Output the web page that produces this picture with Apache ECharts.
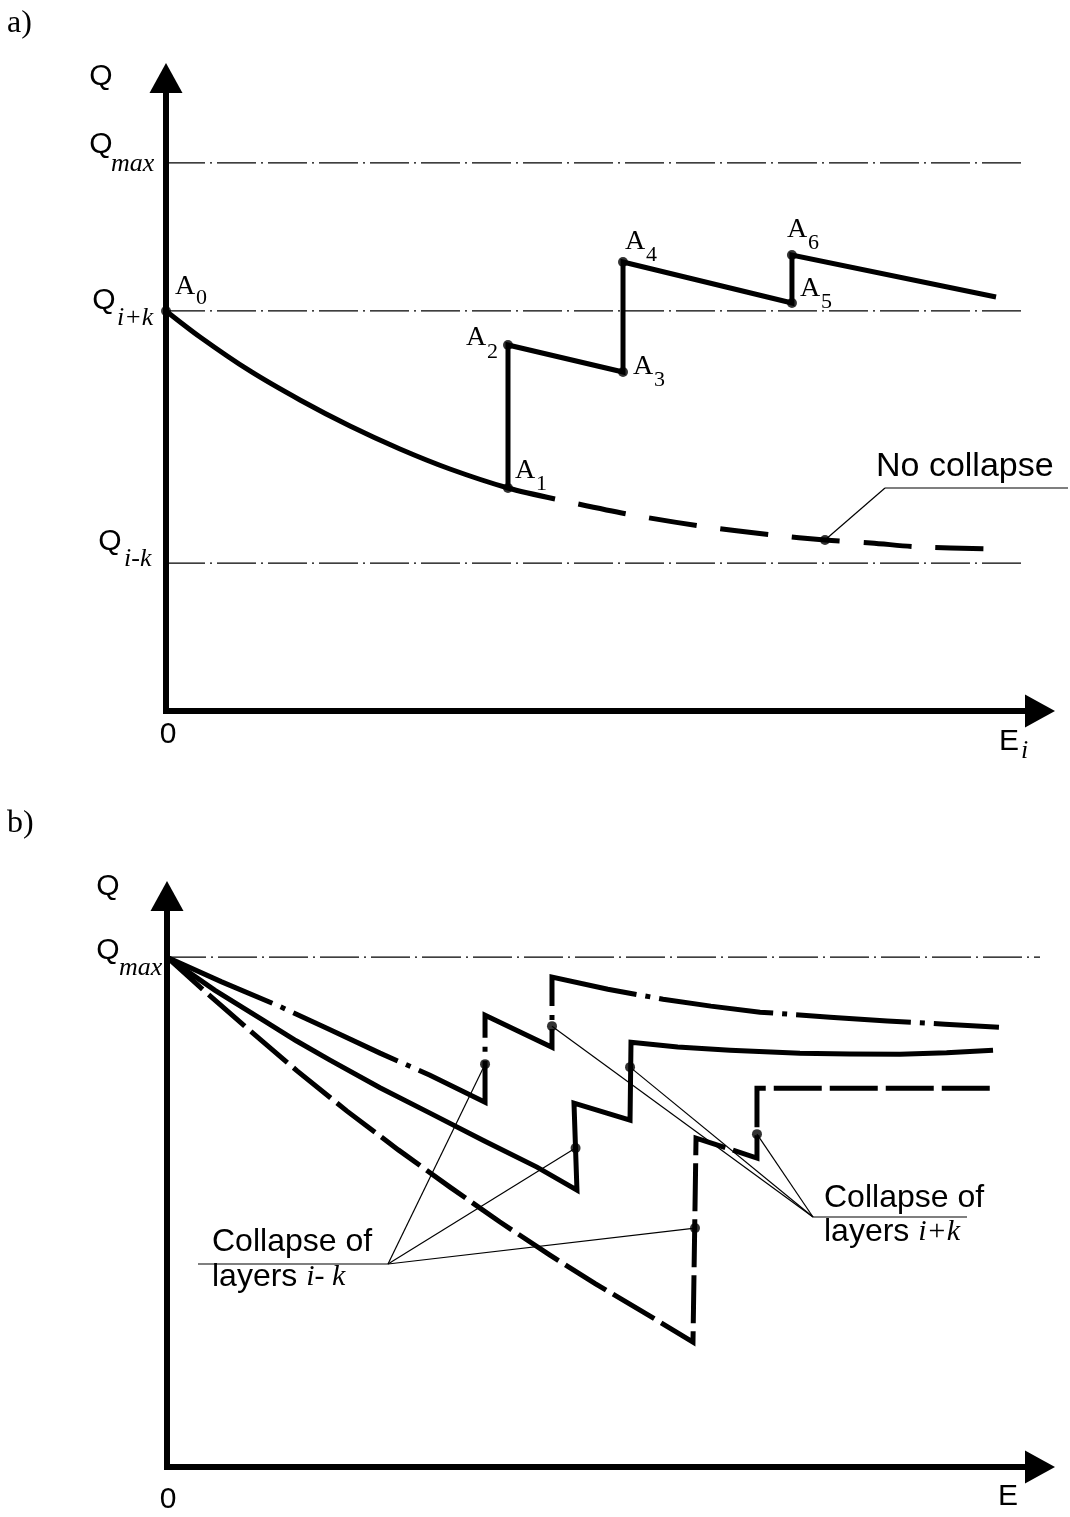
<!DOCTYPE html>
<html><head><meta charset="utf-8">
<script src="https://cdn.jsdelivr.net/npm/echarts@6/dist/echarts.min.js"></script>
<style>html,body{margin:0;padding:0;background:#fff}#c{width:1070px;height:1517px}</style>
</head><body><div id="c"></div>
<script>
// ===== DATA: panel a) (E in 0..100, Q with Qmax = 100) =====
const refLevelsA = [100, 73.0, 27.0];           // Qmax, Qi+k, Qi-k
const refEndA = 98.3;
const noCollapseSolid = [[0,73.0],[3.89,68.25],[9.61,62.04],[15.33,56.75],[21.05,52.0],[26.77,47.81],[32.49,44.16],[39.13,40.69],[44.51,38.69]];
const noCollapseDashed = [[44.51,38.69],[52.75,35.95],[61.1,33.76],[69.45,32.12],[75.4,31.2],[80.66,30.66],[86.16,29.93],[94.5,29.56]];
const collapsePathA = [[39.13,40.69],[39.13,66.79],[52.29,61.86],[52.29,81.93],[71.62,74.45],[71.62,83.21],[94.97,75.55]];
const pointNamesA = ['0','1','2','3','4','5','6'];
const pointsA = [[0,73.0],[39.13,40.69],[39.13,66.79],[52.29,61.86],[52.29,81.93],[71.62,74.45],[71.62,83.21]];
const noCollapsePoint = [75.4, 31.2];

// ===== DATA: panel b) =====
const refLevelsB = [100];                        // Qmax
const refEndB = 100;
const curveDashDot = [[0,100],[6.2,95.2],[12.6,90.59],[18.5,85.9],[24.4,81.18],[30.13,76.86],[36.43,71.57],[36.43,88.63],[44.1,82.35],[44.1,96.08],[50.5,93.7],[56.82,91.76],[62.3,90.4],[67.93,89.22],[75.95,88.24],[82.5,87.5],[89.12,86.86],[95.3,86.27]];
const curveSolid = [[0,100],[5.5,93.5],[11.0,87.65],[14.8,83.6],[18.67,79.8],[24.4,74.4],[30.13,69.41],[36.3,64.0],[42.38,58.82],[46.96,54.31],[46.62,71.37],[53.04,68.04],[53.15,83.33],[58.5,82.4],[64.49,81.76],[72.51,81.18],[78.2,81.0],[83.96,80.98],[89.3,81.25],[94.62,81.76]];
const curveLongDash = [[0,100],[4.6,92.9],[9.16,86.08],[14.9,77.7],[20.62,69.8],[26.5,62.2],[32.42,54.9],[38.1,48.1],[43.87,41.57],[49.0,36.0],[54.18,30.78],[60.25,24.51],[60.6,64.51],[67.58,60.59],[67.58,74.31],[94.27,74.31]];
const collapseIK = [[36.43,79.02],[46.8,62.55],[60.48,46.86]];   // collapse of layers i-k
const collapseIPK = [[44.1,86.47],[53.04,78.43],[67.58,65.29]];  // collapse of layers i+k

const SANS = "'Liberation Sans', Arial, sans-serif";
const SERIF = "'Liberation Serif', 'Times New Roman', serif";

const chart = echarts.init(document.getElementById('c'), null, {renderer:'canvas'});

function axisStyle(){
  return {show:true, symbol:['none','triangle'], symbolSize:[33,30],
    lineStyle:{color:'#000', width:6, cap:'square'}};
}
function mkX(gi){return {type:'value', gridIndex:gi, min:0, max:100, axisLine:axisStyle(), axisTick:{show:false}, axisLabel:{show:false}, splitLine:{show:false}};}
function mkY(gi,max){return {type:'value', gridIndex:gi, min:0, max:max, axisLine:axisStyle(), axisTick:{show:false}, axisLabel:{show:false}, splitLine:{show:false}};}

function refSeries(levels, end, gi){
  return levels.map(L => ({type:'line', xAxisIndex:gi, yAxisIndex:gi, data:[[0,L],[end,L]], showSymbol:false, silent:true,
    lineStyle:{color:'#000', width:1.3, type:[39,5,2,5]}, z:1}));
}
function lineS(data, gi, type, extra, smooth){
  return Object.assign({type:'line', xAxisIndex:gi, yAxisIndex:gi, data:data, showSymbol:false, silent:true, smooth:smooth||false,
    lineStyle:Object.assign({color:'#000', width:5, type:type, join:'miter', cap:'butt'}, extra||{}), z:3});
}
function dots(data, gi){
  return {type:'scatter', xAxisIndex:gi, yAxisIndex:gi, data:data, symbol:'circle', symbolSize:10,
    itemStyle:{color:'#000'}, silent:true, z:5};
}

chart.setOption({
  animation:false,
  grid:[{left:166, top:78, width:874, height:633},{left:167, top:896, width:873, height:571}],
  xAxis:[mkX(0), mkX(1)],
  yAxis:[mkY(0,115.5), mkY(1,112)],
  series:[].concat(
    refSeries(refLevelsA, refEndA, 0),
    [lineS(noCollapseSolid,0,'solid',null,0.3),
     lineS(noCollapseDashed,0,[48,24],{dashOffset:48},0.3),
     lineS(collapsePathA,0,'solid'),
     dots(pointsA.concat([noCollapsePoint]),0)],
    refSeries(refLevelsB, refEndB, 1),
    [lineS(curveDashDot,1,[115,9,5,9]),
     lineS(curveSolid,1,'solid'),
     lineS(curveLongDash,1,[48,8]),
     dots(collapseIK.concat(collapseIPK),1)]
  )
});

// ===== annotations =====
function T(x,y,text,font,align){
  return {type:'text', x:x, y:y, silent:true, z:10,
    style:{text:text, font:font, fill:'#000', textAlign:align||'left', align:align||'left', textVerticalAlign:'middle', verticalAlign:'middle'}};
}
function L(x1,y1,x2,y2,w){
  return {type:'line', silent:true, z:9, shape:{x1:x1,y1:y1,x2:x2,y2:y2}, style:{stroke:'#000', lineWidth:w||1.2}};
}
const px0 = p => chart.convertToPixel({gridIndex:0}, p);
const px1 = p => chart.convertToPixel({gridIndex:1}, p);
const g = [];
const fQ = '30px ' + SANS, fSub = 'italic 26px ' + SERIF;
// panel labels
g.push(T(7,24,'a)','32px '+SERIF), T(7,824,'b)','32px '+SERIF));
// axis titles panel a
g.push(T(101,77,'Q',fQ,'center'));
g.push(T(101,145,'Q',fQ,'center'), T(111,164,'max',fSub));
g.push(T(104,301,'Q',fQ,'center'), T(117,318.5,'i+k',fSub));
g.push(T(110,542,'Q',fQ,'center'), T(124,559.5,'i-k',fSub));
g.push(T(168,735,'0',fQ,'center'));
g.push(T(1009,742,'E',fQ,'center'), T(1021,751.5,'i',fSub));
// axis titles panel b
g.push(T(108,887,'Q',fQ,'center'));
g.push(T(108,951,'Q',fQ,'center'), T(119,968.5,'max',fSub));
g.push(T(168,1500,'0',fQ,'center'));
g.push(T(1008,1497,'E',fQ,'center'));
// A labels
const aOff = [[9,-24.5,30,-12.5],[7,-17,28,-4],[-42,-7.5,-21,7],[10,-5.5,31,8],[2,-20.5,23,-7],[8,-14,29,-1],[-5,-25,16,-12]];
pointsA.forEach((p,i)=>{
  const q = px0(p), o = aOff[i];
  g.push(T(q[0]+o[0], q[1]+o[1], 'A', '28px '+SERIF), T(q[0]+o[2], q[1]+o[3], pointNamesA[i], '22px '+SERIF));
});
// No collapse leader
const nc = px0(noCollapsePoint);
g.push(L(nc[0],nc[1],885,488), L(885,488,1068,488), T(876,467,'No collapse','34px '+SANS));
// Collapse i-k
g.push(L(198,1264,388,1264));
collapseIK.forEach(p=>{const q=px1(p); g.push(L(388,1264,q[0],q[1]));});
g.push(T(212,1242,'Collapse of','32px '+SANS));
g.push({type:'text', x:212, y:1277, silent:true, z:10, style:{text:'{n|layers }{m|i- k}', fill:'#000', align:'left', textAlign:'left', verticalAlign:'middle', textVerticalAlign:'middle',
  rich:{n:{font:'32px '+SANS, fill:'#000'}, m:{font:'italic 30px '+SERIF, fill:'#000'}}}});
// Collapse i+k
g.push(L(813,1217,967,1217));
collapseIPK.forEach(p=>{const q=px1(p); g.push(L(813,1217,q[0],q[1]));});
g.push(T(824,1198,'Collapse of','32px '+SANS));
g.push({type:'text', x:824, y:1232, silent:true, z:10, style:{text:'{n|layers }{m|i+k}', fill:'#000', align:'left', textAlign:'left', verticalAlign:'middle', textVerticalAlign:'middle',
  rich:{n:{font:'32px '+SANS, fill:'#000'}, m:{font:'italic 30px '+SERIF, fill:'#000'}}}});

chart.setOption({graphic:{elements:g}});
</script></body></html>
